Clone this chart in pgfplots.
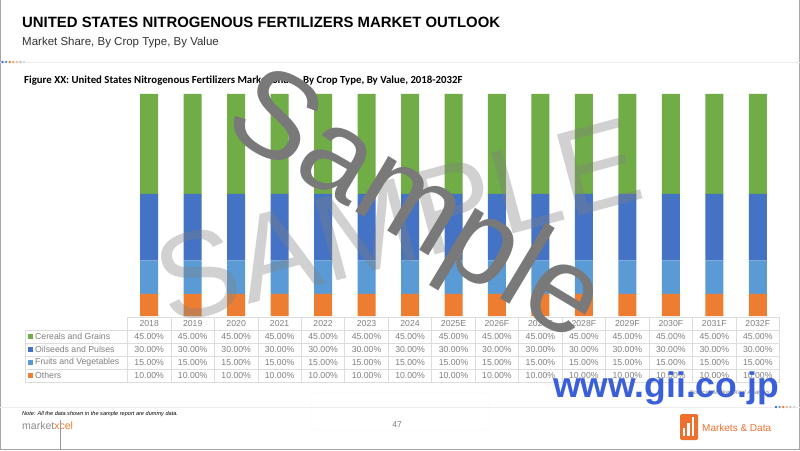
\documentclass[border=0pt]{standalone}
\usepackage{pgfplots}
\pgfplotsset{compat=1.18}
\usepackage{fontspec}
\setmainfont{Liberation Sans}
\newfontfamily\carlito{Carlito}
\definecolor{cgreen}{HTML}{70AD47}
\definecolor{cdblue}{HTML}{4472C4}
\definecolor{clblue}{HTML}{5B9BD5}
\definecolor{corange}{HTML}{ED7D31}
\definecolor{tgray}{HTML}{808080}
\definecolor{gridc}{HTML}{DDDDDD}
\definecolor{giiblue}{HTML}{3A5FD9}
\begin{document}
\begin{tikzpicture}[x=1pt,y=1pt]
\path[use as bounding box] (0,0) rectangle (800,450);
\fill[white] (0,0) rectangle (800,450);
% frame
\draw[gray!70,line width=1.2pt] (0.6,450) -- (0.6,0.6) -- (799.4,0.6) -- (799.4,450);
% titles
\node[anchor=base west,font=\bfseries\fontsize{14.9}{18}\selectfont,inner sep=0] at (22,422) {UNITED STATES NITROGENOUS FERTILIZERS MARKET OUTLOOK};
\node[anchor=base west,font=\fontsize{11.5}{14}\selectfont,text=black!80,inner sep=0] at (22,404) {Market Share, By Crop Type, By Value};
\draw[gray!15,line width=0.8pt] (0,388) -- (800,388);
\foreach \c [count=\k from 0] in {cdblue,clblue,corange,corange!70,corange!50,gray!50,gray!30}
  \fill[\c] (2.5+3.6*\k,388) circle (1.4);
\node[anchor=base west,font=\carlito\bfseries\fontsize{10.8}{12}\selectfont,inner sep=0] at (24,366.5) {Figure XX: United States Nitrogenous Fertilizers Market Share, By Crop Type, By Value, 2018-2032F};
% chart
\begin{axis}[at={(127.5pt,134pt)},anchor=south west,scale only axis,
  width=652pt,height=222pt,xmin=-0.5,xmax=14.5,ymin=0,ymax=100,
  ybar stacked,bar width=18pt,axis lines=none,ticks=none,clip=false]
\addplot[fill=corange,draw=none] coordinates {(0,10)(1,10)(2,10)(3,10)(4,10)(5,10)(6,10)(7,10)(8,10)(9,10)(10,10)(11,10)(12,10)(13,10)(14,10)};
\addplot[fill=clblue,draw=none] coordinates {(0,15)(1,15)(2,15)(3,15)(4,15)(5,15)(6,15)(7,15)(8,15)(9,15)(10,15)(11,15)(12,15)(13,15)(14,15)};
\addplot[fill=cdblue,draw=none] coordinates {(0,30)(1,30)(2,30)(3,30)(4,30)(5,30)(6,30)(7,30)(8,30)(9,30)(10,30)(11,30)(12,30)(13,30)(14,30)};
\addplot[fill=cgreen,draw=none] coordinates {(0,45)(1,45)(2,45)(3,45)(4,45)(5,45)(6,45)(7,45)(8,45)(9,45)(10,45)(11,45)(12,45)(13,45)(14,45)};
\end{axis}
% data table
\def\cw{43.4667}
\draw[gridc,line width=0.7pt] (127.5,133) -- (779.5,133);
\foreach \yy in {120,107,94,81,68} \draw[gridc,line width=0.7pt] (25,\yy) -- (779.5,\yy);
\draw[gridc,line width=0.7pt] (25,120) -- (25,68);
\foreach \i in {0,...,15} \draw[gridc,line width=0.7pt] (127.5+\cw*\i,133) -- (127.5+\cw*\i,68);
\foreach \yr [count=\i from 0] in {2018,2019,2020,2021,2022,2023,2024,2025E,2026F,2027F,2028F,2029F,2030F,2031F,2032F}{
  \node[font=\fontsize{8.7}{10}\selectfont,text=tgray,inner sep=0] at (127.5+\cw*\i+0.5*\cw,126.5) {\yr};
  \foreach \v/\yy in {45.00/113.5,30.00/100.5,15.00/87.5,10.00/74.5}
    \node[font=\fontsize{8.7}{10}\selectfont,text=tgray,inner sep=0] at (127.5+\cw*\i+0.5*\cw,\yy) {\v\%};
}
\foreach \c/\t/\yy in {cgreen/Cereals and Grains/113.5,cdblue/Oilseeds and Pulses/100.5,clblue/Fruits and Vegetables/87.5,corange/Others/74.5}{
  \fill[\c] (28,\yy-2.5) rectangle (33,\yy+2.5);
  \node[anchor=west,font=\fontsize{8.7}{10}\selectfont,text=tgray,inner sep=0] at (35,\yy) {\t};
}
% watermarks
\node[rotate=15,font=\fontsize{122}{125}\selectfont,text=gray,opacity=0.36,inner sep=0] at (398,229) {SAMPLE};
\node[rotate=-31,font=\fontsize{122}{125}\selectfont,text=gray!95!black,inner sep=0] at (414,240) {Sample};
\node[anchor=base east,font=\itshape\fontsize{6}{7}\selectfont,text=tgray,inner sep=0] at (770,56) {Source: MarketsXcel Analysis};
\node[font=\bfseries\fontsize{35.5}{40}\selectfont,text=giiblue,inner sep=0] at (666,62) {www.gii.co.jp};
% footer
\draw[gray!15,line width=0.8pt] (0,43) -- (800,43);
\foreach \c [count=\k from 0] in {cdblue,clblue,corange,corange!60,gray!50,gray!30}
  \fill[\c] (776+3.6*\k,43) circle (1.3);
\node[anchor=base west,font=\itshape\fontsize{5.6}{7}\selectfont,inner sep=0] at (22,35) {Note: All the data shown in the sample report are dummy data.};
\node[anchor=base west,font=\fontsize{10.5}{12}\selectfont,text=gray!90,inner sep=0] at (22,21) {market\textcolor{corange}{xcel}};
\draw[gray!80,line width=0.8pt] (60,30) -- (60,0);
\draw[gray!8,rounded corners=2pt] (311,20) rectangle (489,57);
\node[font=\fontsize{8.5}{10}\selectfont,text=tgray] at (397,25) {47};
\fill[corange!90!red,rounded corners=1.5pt] (680,10) rectangle (698,36);
\foreach \xx/\hh in {684/8,688.5/13,693/19} \fill[white] (\xx-1.3,14) rectangle (\xx+1.3,14+\hh);
\node[anchor=base west,font=\fontsize{10}{12}\selectfont,text=corange!90!red,inner sep=0] at (702,19) {Markets \& Data};
\end{tikzpicture}
\end{document}
